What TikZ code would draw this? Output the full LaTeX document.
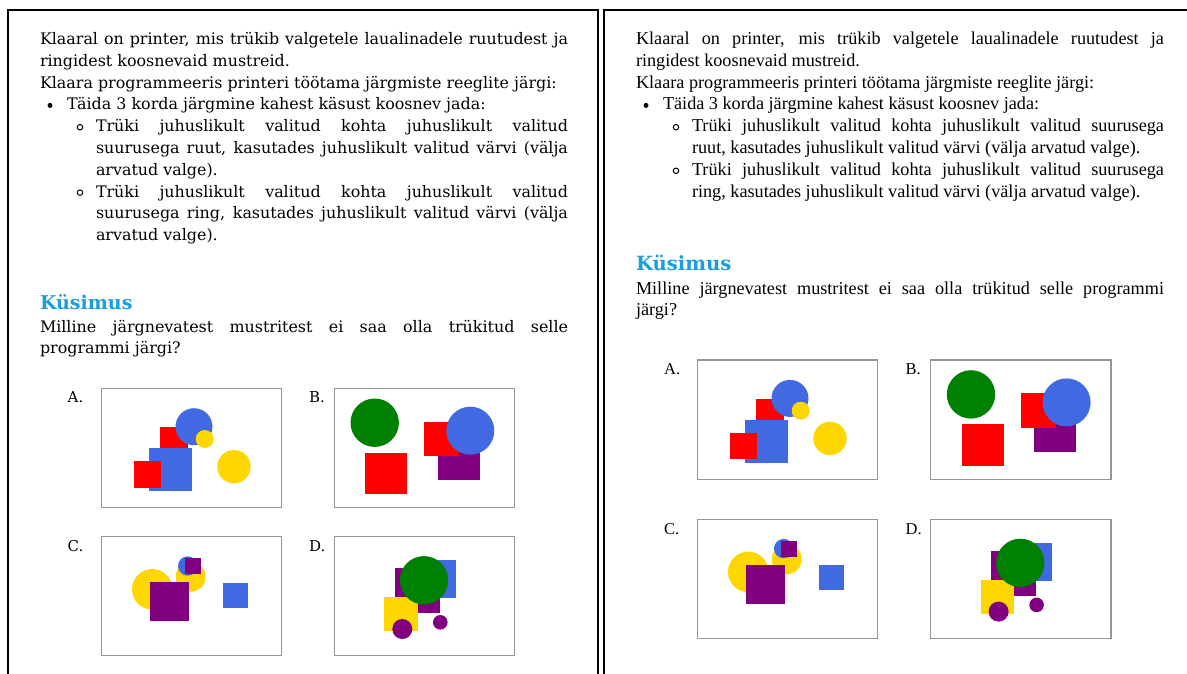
\documentclass[tikz,border=0pt]{standalone}
\usepackage{fontspec}
\setmainfont{Liberation Serif}
\newfontfamily\lfont{DejaVu Serif}
\newfontfamily\rfont{Liberation Serif}
\definecolor{qred}{RGB}{255,0,0}
\definecolor{qblue}{RGB}{65,105,225}
\definecolor{qyellow}{RGB}{255,215,0}
\definecolor{qgreen}{RGB}{0,128,0}
\definecolor{qpurple}{RGB}{128,0,128}
\definecolor{qhead}{RGB}{24,158,222}
\definecolor{qbox}{RGB}{150,150,150}
\newcommand\lsz{\lfont\fontsize{15.9}{21.8}\selectfont\hyphenpenalty=10000\exhyphenpenalty=10000\tolerance=9999\relax}
\newcommand\rsz{\rfont\fontsize{18.2}{21.8}\selectfont\hyphenpenalty=10000\exhyphenpenalty=10000\tolerance=9999\relax}
\newcommand\patA{%
  \draw[boxln] (0,0) rectangle (180.4,119.3);
  \fill[qred] (59,39) rectangle ++(28,28);
  \fill[qblue] (92.7,38.4) circle[radius=18.5];
  \fill[qyellow] (103.4,50.7) circle[radius=9];
  \fill[qblue] (47.4,59.7) rectangle ++(43.3,43.3);
  \fill[qred] (33,72.7) rectangle ++(26.7,26.5);
  \fill[qyellow] (132.7,78.4) circle[radius=16.7];
}
\newcommand\patB{%
  \draw[boxln] (0,0) rectangle (180.4,119.3);
  \fill[qgreen] (40.4,34.4) circle[radius=24.2];
  \fill[qred] (31,64.4) rectangle ++(42,41.6);
  \fill[qpurple] (103.4,49.4) rectangle ++(42.3,42.3);
  \fill[qred] (90,33.4) rectangle ++(35,34.6);
  \fill[qblue] (136,42.4) circle[radius=24];
}
\newcommand\patC{%
  \draw[boxln] (0,0) rectangle (180.4,119);
  \fill[qyellow] (51,52.6) circle[radius=20.3];
  \fill[qyellow] (89.4,40) circle[radius=15];
  \fill[qpurple] (48.4,45.3) rectangle ++(39,39);
  \fill[qblue] (86.4,29.3) circle[radius=9.7];
  \fill[qpurple] (83.7,21.3) rectangle ++(16,16);
  \fill[qblue] (121.7,46) rectangle ++(25.3,25);
}
\newcommand\patD{%
  \draw[boxln] (0,0) rectangle (180.4,119);
  \fill[qpurple] (60.7,31.6) rectangle ++(45,45);
  \fill[qblue] (83,23.3) rectangle ++(38.4,38.3);
  \fill[qyellow] (50,60.6) rectangle ++(33.4,33.7);
  \fill[qgreen] (89.7,43.6) circle[radius=24.2];
  \fill[qpurple] (68,92.3) circle[radius=10];
  \fill[qpurple] (106,85.6) circle[radius=7.3];
}
\begin{document}
\begin{tikzpicture}[x=1pt,y=-1pt,
  panel/.style={line width=2.4pt,black},
  boxln/.style={draw=qbox,line width=1.1pt},
  txt/.style={inner sep=0pt,outer sep=0pt,anchor=base west,align=justify},
  ltxt/.style={txt,font=\lsz},
  rtxt/.style={txt,font=\rsz},
  lhead/.style={inner sep=0pt,outer sep=0pt,anchor=base west,text=qhead,font=\lfont\bfseries\fontsize{19}{22}\selectfont},
  rhead/.style={inner sep=0pt,outer sep=0pt,anchor=base west,text=qhead,font=\lfont\bfseries\fontsize{19.6}{22}\selectfont},
  dotb/.style={circle,fill=black,inner sep=0pt,minimum size=5pt},
  ringb/.style={circle,draw=black,line width=1pt,inner sep=0pt,minimum size=5.5pt},
  llbl/.style={inner sep=0pt,anchor=base west,font=\lfont\fontsize{15}{18}\selectfont},
  rlbl/.style={inner sep=0pt,anchor=base west,font=\rfont\fontsize{16.5}{18}\selectfont}]
\useasboundingbox[fill=white] (0,0) rectangle (1187,673);
% panels
\draw[panel] (8,680) -- (8,10) -- (598,10) -- (598,680);
\draw[panel] (604,680) -- (604,10) -- (1195,10);
% ---------- left panel ----------
\node[ltxt,text width=528pt] (lintro) at (40,44.5)
 {Klaaral on printer, mis trükib valgetele laualinadele ruutudest ja\linebreak ringidest koosnevaid mustreid.\\Klaara programmeeris printeri töötama järgmiste reeglite järgi:};
\node[dotb] (lb1) at (50,105.4) {};
\node[ltxt,text width=501pt] (litem) at (67,109.9) {Täida 3 korda järgmine kahest käsust koosnev jada:};
\node[ringb] (lb2) at (80,127.2) {};
\node[ltxt,text width=472pt] (lsub1) at (96,131.7)
 {Trüki juhuslikult valitud kohta juhuslikult valitud\linebreak suurusega ruut, kasutades juhuslikult valitud värvi (välja\linebreak arvatud valge).};
\node[ringb] (lb3) at (80,192.6) {};
\node[ltxt,text width=472pt] (lsub2) at (96,197.1)
 {Trüki juhuslikult valitud kohta juhuslikult valitud\linebreak suurusega ring, kasutades juhuslikult valitud värvi (välja\linebreak arvatud valge).};
\node[lhead] (lq) at (40,309) {Küsimus};
\node[ltxt,text width=528pt] (lqt) at (40,332)
 {Milline järgnevatest mustritest ei saa olla trükitud selle\linebreak programmi järgi?};
\node[llbl] (lA) at (67.5,402) {A.};
\node[llbl] (lB) at (309,402) {B.};
\node[llbl] (lC) at (67.5,551) {C.};
\node[llbl] (lD) at (309,551) {D.};
\begin{scope}[shift={(101.3,388.3)}]\patA\end{scope}
\begin{scope}[shift={(334.3,388.3)}]\patB\end{scope}
\begin{scope}[shift={(101.3,536.7)}]\patC\end{scope}
\begin{scope}[shift={(334.3,536.7)}]\patD\end{scope}
% ---------- right panel ----------
\node[rtxt,text width=528pt] (rintro) at (636,44.5)
 {Klaaral on printer, mis trükib valgetele laualinadele ruutudest ja\linebreak ringidest koosnevaid mustreid.\\Klaara programmeeris printeri töötama järgmiste reeglite järgi:};
\node[dotb] (rb1) at (646,105.4) {};
\node[rtxt,text width=501pt] (ritem) at (663,109.9) {Täida 3 korda järgmine kahest käsust koosnev jada:};
\node[ringb] (rb2) at (676,127.2) {};
\node[rtxt,text width=472pt] (rsub1) at (692,131.7)
 {Trüki juhuslikult valitud kohta juhuslikult valitud suurusega\linebreak ruut, kasutades juhuslikult valitud värvi (välja arvatud valge).};
\node[ringb] (rb3) at (676,170.8) {};
\node[rtxt,text width=472pt] (rsub2) at (692,175.3)
 {Trüki juhuslikult valitud kohta juhuslikult valitud suurusega\linebreak ring, kasutades juhuslikult valitud värvi (välja arvatud valge).};
\node[rhead] (rq) at (636,270) {Küsimus};
\node[rtxt,text width=528pt] (rqt) at (636,294)
 {Milline järgnevatest mustritest ei saa olla trükitud selle programmi\linebreak järgi?};
\node[rlbl] (rA) at (664,374.5) {A.};
\node[rlbl] (rB) at (905.5,374.5) {B.};
\node[rlbl] (rC) at (664,534.5) {C.};
\node[rlbl] (rD) at (905.5,534.5) {D.};
\begin{scope}[shift={(697.3,360)}]\patA\end{scope}
\begin{scope}[shift={(930.6,360)}]\patB\end{scope}
\begin{scope}[shift={(697.3,519.3)}]\patC\end{scope}
\begin{scope}[shift={(930.6,519.3)}]\patD\end{scope}
\end{tikzpicture}
\end{document}
